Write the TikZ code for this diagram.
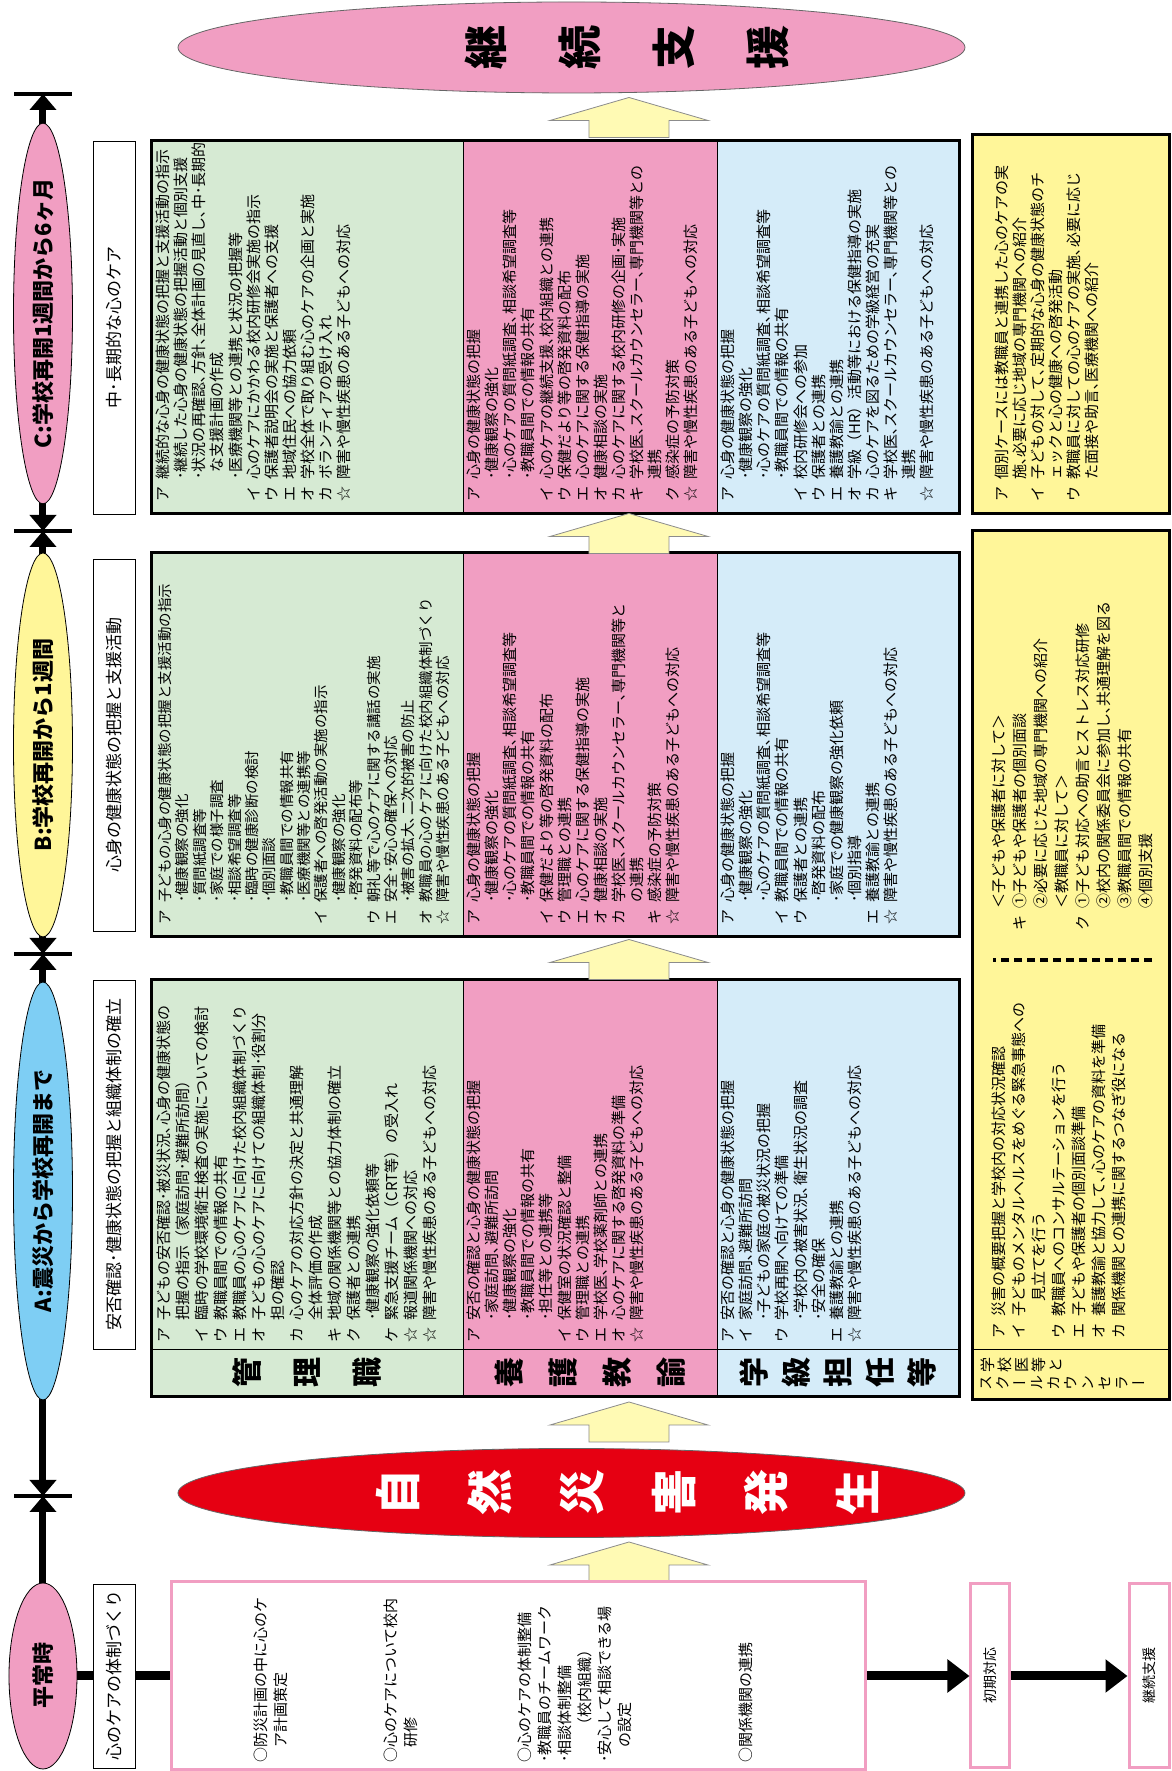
\documentclass[tikz,border=0pt]{standalone}
\usepackage{fontspec}
\setmainfont{Noto Sans CJK JP}
\newfontfamily\vfont[RawFeature=+vert]{Noto Sans CJK JP}
\usetikzlibrary{shapes.geometric,arrows.meta}

\definecolor{cgreen}{RGB}{214,234,211}
\definecolor{cpink}{RGB}{241,158,194}
\definecolor{cblue}{RGB}{213,236,249}
\definecolor{cyel}{RGB}{255,246,153}
\definecolor{csky}{RGB}{126,206,244}
\definecolor{cred}{RGB}{230,0,18}
\definecolor{carrow}{RGB}{255,250,180}

\newcommand{\items}[1]{\begin{tabular}{@{}p{22pt}@{}l@{}}#1\end{tabular}}

\tikzset{
  cellbox/.style={draw, line width=0.8pt, inner sep=0pt, outer sep=0pt},
  frame/.style={draw, line width=3pt},
  txt/.style={anchor=north west, inner sep=0pt, font=\fontsize{15}{18}\selectfont},
  head/.style={draw, line width=0.8pt, inner sep=0pt, fill=white, minimum height=42, font=\fontsize{17}{20}\selectfont},
  tlell/.style={ellipse, draw, line width=0.8pt, inner sep=0pt, minimum height=59, font=\bfseries\fontsize{22}{24}\selectfont},
  role/.style={align=center, font=\bfseries\fontsize{30}{30}\selectfont},
  bigell/.style={ellipse, draw=black!60, line width=0.8pt, inner sep=0pt, minimum height=787},
  bigtxt/.style={align=center, inner sep=0pt, font=\bfseries\fontsize{46}{46}\selectfont},
  tline/.style={line width=7pt, {Triangle[length=16pt,width=26pt]}-{Triangle[length=16pt,width=26pt]}},
  tick/.style={line width=4pt},
  conn/.style={line width=9pt},
  pbox/.style={draw=cpink, line width=3pt, inner sep=0pt, fill=white},
  yarrow/.pic={\draw[draw=black!45, line width=0.8pt, fill=carrow] (-20,-40) -- (-3,-40) -- (-3,-79) -- (20,0) -- (-3,79) -- (-3,40) -- (-20,40) -- cycle;}
}

\begin{document}
\begin{tikzpicture}[x=1pt,y=1pt]
\path[use as bounding box, fill=white] (-1171,0) rectangle (0,1771);
\begin{scope}[rotate=90, transform shape]

% timeline
\coordinate (t0) at (275,1128);
\coordinate (t1) at (817,1128);
\coordinate (t2) at (1240,1128);
\coordinate (t3) at (1677,1128);
\node[tlell, fill=cpink, minimum width=186, minimum height=68] (heiell) at (95,1128) {平常時};
\draw[line width=7pt, -{Triangle[length=16pt,width=26pt]}] (heiell.east) -- (t0);
\draw[tline] (t0) -- (t1);
\draw[tline] (t1) -- (t2);
\draw[tline] (t2) -- (t3);
\foreach \x in {275,817,1240,1677} \draw[tick] (\x,1099) -- (\x,1157);
\node[tlell, fill=csky, minimum width=418] (aphase) at (580,1128) {A:震災から学校再開まで};
\node[tlell, fill=cyel, minimum width=384] (bphase) at (1026,1128) {B:学校再開から1週間};
\node[tlell, fill=cpink, minimum width=367] (cphase) at (1457.5,1128) {C:学校再開1週間から6ヶ月};

% headings
\node[head, minimum width=184] (h0) at (95,1057) {心のケアの体制づくり};
\node[head, minimum width=369] (ha) at (606.5,1057) {安否確認･健康状態の把握と組織体制の確立};
\node[head, minimum width=372] (hb) at (1026,1057) {心身の健康状態の把握と支援活動};
\node[head, minimum width=373] (hc) at (1443.5,1057) {中･長期的な心のケア};

% A block
\node[cellbox, role, fill=cgreen, minimum width=48, minimum height=311] (ra1) at (398,863.5) {管\\[30pt]理\\[30pt]職};
\node[cellbox, role, fill=cpink, minimum width=48, minimum height=254] (ra2) at (398,581) {養\\[24pt]護\\[24pt]教\\[24pt]諭};
\node[cellbox, role, fill=cblue, minimum width=48, minimum height=243] (ra3) at (398,332.5) {学\\[12pt]級\\[12pt]担\\[12pt]任\\[12pt]等};
\node[cellbox, fill=cgreen, minimum width=369, minimum height=311] (ag) at (606.5,863.5) {};
\node[cellbox, fill=cpink, minimum width=369, minimum height=254] (ap) at (606.5,581) {};
\node[cellbox, fill=cblue, minimum width=369, minimum height=243] (ab) at (606.5,332.5) {};
\draw[frame] (ra1.north west) rectangle (ab.south east);

% B block
\node[cellbox, fill=cgreen, minimum width=384, minimum height=311] (bg) at (1026,863.5) {};
\node[cellbox, fill=cpink, minimum width=384, minimum height=254] (bp) at (1026,581) {};
\node[cellbox, fill=cblue, minimum width=384, minimum height=243] (bb) at (1026,332.5) {};
\draw[frame] (bg.north west) rectangle (bb.south east);

% C block
\node[cellbox, fill=cgreen, minimum width=373, minimum height=311] (cg) at (1443.5,863.5) {};
\node[cellbox, fill=cpink, minimum width=373, minimum height=254] (cp) at (1443.5,581) {};
\node[cellbox, fill=cblue, minimum width=373, minimum height=243] (cb) at (1443.5,332.5) {};
\draw[frame] (cg.north west) rectangle (cb.south east);

% yellow boxes
\node[cellbox, frame, fill=cyel, minimum width=869, minimum height=196] (yab) at (805.5,100) {};
\node[cellbox, frame, fill=cyel, minimum width=379, minimum height=196] (yc) at (1446.5,100) {};
\draw[line width=0.8pt] (422,2) -- (422,198);
\draw[line width=3.5pt, dash pattern=on 8pt off 5pt] (811,19) -- (811,178);

% texts A
\node[txt, font=\fontsize{15}{19}\selectfont] (agt) at (428,1015) {\items{
ア&子どもの安否確認･被災状況､心身の健康状態の\\
&把握の指示（家庭訪問･避難所訪問）\\
イ&臨時の学校環境衛生検査の実施についての検討\\
ウ&教職員間での情報の共有\\
エ&教職員の心のケアに向けた校内組織体制づくり\\
オ&子どもの心のケアに向けての組織体制･役割分\\
&担の確認\\
カ&心のケアの対応方針の決定と共通理解\\
&全体評価の作成\\
キ&地域の関係機関等との協力体制の確立\\
ク&保護者との連携\\
&･健康観察の強化依頼等\\
ケ&緊急支援チーム（CRT等）の受入れ\\
☆&報道関係機関への対応\\
☆&障害や慢性疾患のある子どもへの対応}};
\node[txt] (apt) at (428,704) {\items{
ア&安否の確認と心身の健康状態の把握\\
&･家庭訪問､避難所訪問\\
&･健康観察の強化\\
&･教職員間での情報の共有\\
&･担任等との連携等\\
イ&保健室の状況確認と整備\\
ウ&管理職との連携\\
エ&学校医､学校薬剤師との連携\\
オ&心のケアに関する啓発資料の準備\\
☆&障害や慢性疾患のある子どもへの対応}};
\node[txt] (abt) at (428,450) {\items{
ア&安否の確認と心身の健康状態の把握\\
イ&家庭訪問､避難所訪問\\
&･子どもの家庭の被災状況の把握\\
ウ&学校再開へ向けての準備\\
&･学校内の被害状況､衛生状況の調査\\
&･安全の確保\\
エ&養護教諭との連携\\
☆&障害や慢性疾患のある子どもへの対応}};

% texts B
\node[txt, font=\fontsize{14.5}{17.2}\selectfont] (bgt) at (846,1013) {\items{
ア&子どもの心身の健康状態の把握と支援活動の指示\\
&･健康観察の強化\\
&･質問紙調査等\\
&･家庭での様子調査\\
&･相談希望調査等\\
&･臨時の健康診断の検討\\
&･個別面談\\
&･教職員間での情報共有\\
&･医療機関等との連携等\\
イ&保護者への啓発活動の実施の指示\\
&･健康観察の強化\\
&･啓発資料の配布等\\
ウ&朝礼等で心のケアに関する講話の実施\\
エ&安全･安心の確保への対応\\
&･被害の拡大､二次的被害の防止\\
オ&教職員の心のケアに向けた校内組織体制づくり\\
☆&障害や慢性疾患のある子どもへの対応}};
\node[txt] (bpt) at (846,704) {\items{
ア&心身の健康状態の把握\\
&･健康観察の強化\\
&･心のケアの質問紙調査､相談希望調査等\\
&･教職員間での情報の共有\\
イ&保健だより等の啓発資料の配布\\
ウ&管理職との連携\\
エ&心のケアに関する保健指導の実施\\
オ&健康相談の実施\\
カ&学校医､スクールカウンセラー､専門機関等と\\
&の連携\\
キ&感染症の予防対策\\
☆&障害や慢性疾患のある子どもへの対応}};
\node[txt] (bbt) at (846,450) {\items{
ア&心身の健康状態の把握\\
&･健康観察の強化\\
&･心のケアの質問紙調査､相談希望調査等\\
イ&教職員間での情報の共有\\
ウ&保護者との連携\\
&･啓発資料の配布\\
&･家庭での健康観察の強化依頼\\
&･個別指導\\
エ&養護教諭との連携\\
☆&障害や慢性疾患のある子どもへの対応}};

% texts C
\node[txt] (cgt) at (1269,1015) {\items{
ア&継続的な心身の健康状態の把握と支援活動の指示\\
&･継続した心身の健康状態の把握活動と個別支援\\
&･状況の再確認､方針､全体計画の見直し､中･長期的\\
&\hspace*{7pt}な支援計画の作成\\
&･医療機関等との連携と状況の把握等\\
イ&心のケアにかかわる校内研修会実施の指示\\
ウ&保護者説明会の実施と保護者への支援\\
エ&地域住民への協力依頼\\
オ&学校全体で取り組む心のケアの企画と実施\\
カ&ボランティアの受け入れ\\
☆&障害や慢性疾患のある子どもへの対応}};
\node[txt] (cpt) at (1269,704) {\items{
ア&心身の健康状態の把握\\
&･健康観察の強化\\
&･心のケアの質問紙調査､相談希望調査等\\
&･教職員間での情報の共有\\
イ&心のケアの継続支援､校内組織との連携\\
ウ&保健だより等の啓発資料の配布\\
エ&心のケアに関する保健指導の実施\\
オ&健康相談の実施\\
カ&心のケアに関する校内研修の企画･実施\\
キ&学校医､スクールカウンセラー､専門機関等との\\
&連携\\
ク&感染症の予防対策\\
☆&障害や慢性疾患のある子どもへの対応}};
\node[txt] (cbt) at (1269,450) {\items{
ア&心身の健康状態の把握\\
&･健康観察の強化\\
&･心のケアの質問紙調査､相談希望調査等\\
&･教職員間での情報の共有\\
イ&校内研修会への参加\\
ウ&保護者との連携\\
エ&養護教諭との連携\\
オ&学級（HR）活動等における保健指導の実施\\
カ&心のケアを図るための学級経営の充実\\
キ&学校医､スクールカウンセラー､専門機関等との\\
&連携\\
☆&障害や慢性疾患のある子どもへの対応}};

% texts yellow
\node[txt, font=\vfont\fontsize{15}{17}\selectfont, anchor=north, align=center] (ylab1) at (406,190) {学\\校\\医\\等\\と};
\node[txt, font=\vfont\fontsize{15}{17}\selectfont, anchor=north, align=center] (ylab2) at (388,190) {ス\\ク\\ー\\ル\\カ\\ウ\\ン\\セ\\ラ\\ー};
\node[txt, font=\fontsize{15}{20}\selectfont] (yat) at (432,181) {\items{
ア&災害の概要把握と学校内の対応状況確認\\
イ&子どものメンタルヘルスをめぐる緊急事態への\\
&\hspace*{15pt}見立てを行う\\
ウ&教職員へのコンサルテーションを行う\\
エ&子どもや保護者の個別面談準備\\
オ&養護教諭と協力して､心のケアの資料を準備\\
カ&関係機関との連携に関するつなぎ役になる}};
\node[txt, font=\fontsize{15}{21}\selectfont] (ybt) at (840,181) {\items{
&＜子どもや保護者に対して＞\\
キ&①子どもや保護者の個別面談\\
&②必要に応じた地域の専門機関への紹介\\
&＜教職員に対して＞\\
ク&①子ども対応への助言とストレス対応研修\\
&②校内の関係委員会に参加し､共通理解を図る\\
&③教職員間での情報の共有\\
&④個別支援}};
\node[txt] (yct) at (1269,176) {\items{
ア&個別ケースには教職員と連携した心のケアの実\\
&施､必要に応じ地域の専門機関への紹介\\
イ&子どもの対して､定期的な心身の健康状態のチ\\
&ェックと心の健康への啓発活動\\
ウ&教職員に対しての心のケアの実施､必要に応じ\\
&た面接や助言､医療機関への紹介}};

% event ellipses and arrows
\node[bigell, fill=cred, minimum width=89] (hassei) at (278,599.5) {};
\node[bigtxt, text=white] (hasseitxt) at (278,544) {自\\[46pt]然\\[46pt]災\\[46pt]害\\[46pt]発\\[46pt]生};
\node[bigell, fill=cpink, minimum width=91] (keizoku) at (1723.5,599.5) {};
\node[bigtxt, font=\bfseries\fontsize{44}{44}\selectfont] (keizokutxt) at (1723.5,544) {継\\[50pt]続\\[50pt]支\\[50pt]援};
\foreach \x in {209,349,811.5,1237.5,1653.5} \pic at (\x,542) {yarrow};

% normal time
\node[pbox, minimum width=188, minimum height=694] (pb) at (95,652) {};
\node[pbox, minimum width=184, minimum height=39, font=\fontsize{14}{16}\selectfont] (shoki) at (95,180.5) {初期対応};
\node[pbox, minimum width=184, minimum height=40, font=\fontsize{14}{16}\selectfont] (keizokub) at (95,22) {継続支援};
\draw[conn] (heiell.south) -- (h0.north);
\draw[conn] (h0.south) -- (pb.north);
\draw[conn, -{Triangle[length=22pt,width=32pt]}] (pb.south) -- (shoki.north);
\draw[conn, -{Triangle[length=22pt,width=32pt]}] (shoki.south) -- (keizokub.north);
\node[txt, align=left, font=\fontsize{15}{20}\selectfont] (p1) at (8,917) {○防災計画の中に心のケ\\\hspace*{15pt}ア計画策定};
\node[txt, align=left, font=\fontsize{15}{20}\selectfont] (p2) at (8,787) {○心のケアについて校内\\\hspace*{15pt}研修};
\node[txt, align=left, font=\fontsize{15}{20}\selectfont] (p3) at (8,653) {○心のケアの体制整備\\･教職員のチームワーク\\･相談体制整備\\\hspace*{30pt}（校内組織）\\･安心して相談できる場\\\hspace*{15pt}の設定};
\node[txt, align=left, font=\fontsize{15}{20}\selectfont] (p4) at (8,432) {○関係機関の連携};

\end{scope}
\end{tikzpicture}
\end{document}
